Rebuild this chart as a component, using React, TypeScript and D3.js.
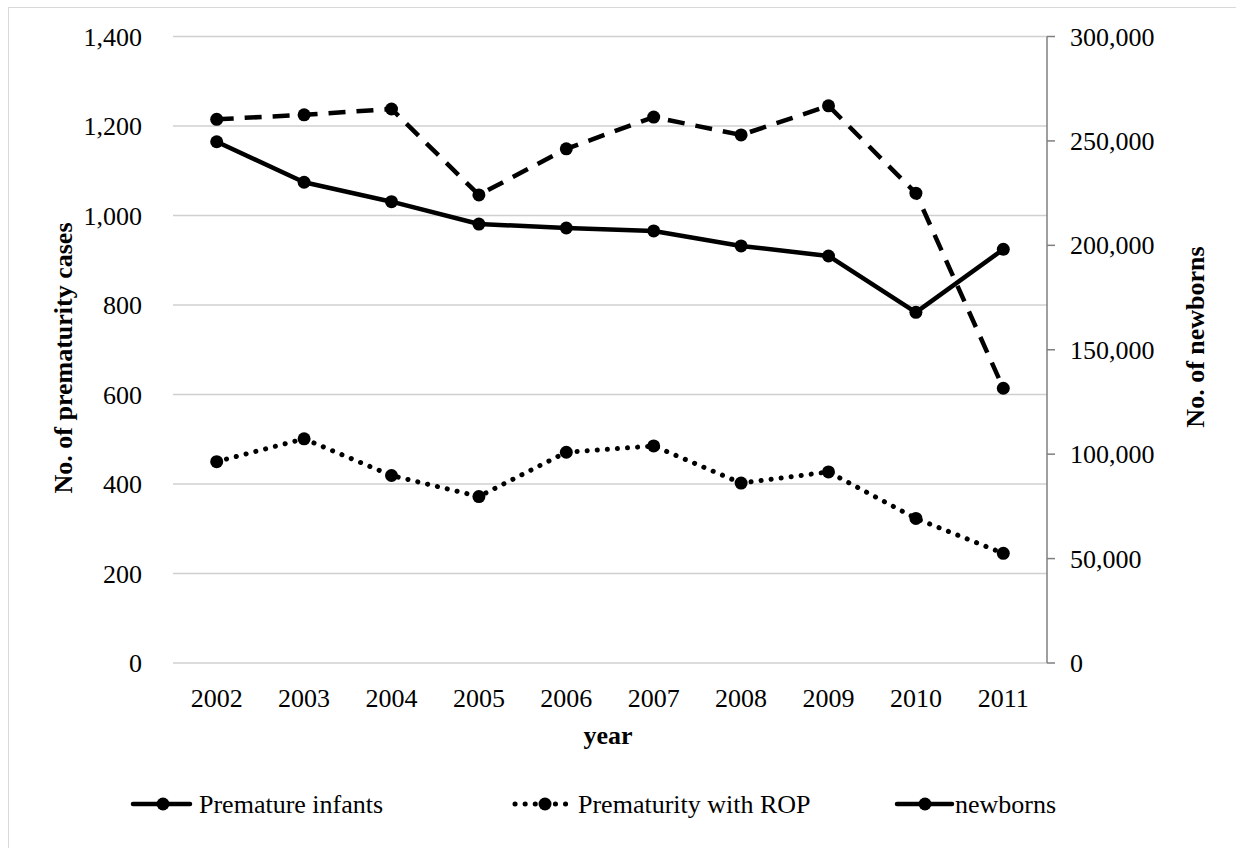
import React from "react";
import * as d3 from "d3";

const years = ["2002", "2003", "2004", "2005", "2006", "2007", "2008", "2009", "2010", "2011"];
const prematureInfants = [1215, 1225, 1238, 1046, 1149, 1220, 1180, 1245, 1050, 614];
const prematurityROP = [450, 501, 419, 372, 471, 485, 402, 427, 323, 245];
const newborns = [249600, 230200, 220900, 210200, 208300, 206900, 199700, 194900, 167900, 198100];
const leftTicks = [0, 200, 400, 600, 800, 1000, 1200, 1400];
const rightTicks = [0, 50000, 100000, 150000, 200000, 250000, 300000];

const W = 1236;
const H = 848;
const L = 173;
const R = 1047;
const T = 36.5;
const B = 663;
const FONT = '"Times New Roman", "Liberation Serif", Tinos, "Nimbus Roman", "Nimbus Roman No9 L", FreeSerif, "DejaVu Serif", "Noto Serif", serif';

export default function App() {
  const x = d3.scaleBand<string>().domain(years).range([L, R]).padding(0);
  const cx = (d: string) => (x(d) as number) + x.bandwidth() / 2;
  const yL = d3.scaleLinear().domain([0, 1400]).range([B, T]);
  const yR = d3.scaleLinear().domain([0, 300000]).range([B, T]);
  const fmt = d3.format(",");

  const lineL = d3.line<number>().x((_, i) => cx(years[i])).y((d) => yL(d));
  const lineR = d3.line<number>().x((_, i) => cx(years[i])).y((d) => yR(d));

  const series = [
    { name: "Premature infants", data: prematureInfants, path: lineL(prematureInfants), y: yL, dash: "17 11", cap: "butt" },
    { name: "Prematurity with ROP", data: prematurityROP, path: lineL(prematurityROP), y: yL, dash: "0.1 10", cap: "round" },
    { name: "newborns", data: newborns, path: lineR(newborns), y: yR, dash: "none", cap: "butt" },
  ];

  const legend = [
    { x1: 133, x2: 190, mx: 163, tx: 199, dotted: false },
    { x1: 515, x2: 556, mx: 545, tx: 578, dotted: true },
    { x1: 897, x2: 952, mx: 925, tx: 955, dotted: false },
  ];

  const ts = { fontFamily: FONT };

  return (
    <svg width={W} height={H} style={{ position: "absolute", left: 0, top: 0, fontFamily: FONT }}>
      <rect x={0} y={0} width={W} height={H} fill="#fff" />
      <rect x={8.5} y={7.5} width={W} height={H} fill="none" stroke="#d9d9d9" strokeWidth={1} />
      {leftTicks.map((t) => (
        <g key={t}>
          <line x1={L} x2={R} y1={yL(t)} y2={yL(t)} stroke="#d0d0d0" strokeWidth={1.5} />
          <text x={142} y={yL(t) + 9} textAnchor="end" fontSize={26} fill="#000" style={ts}>{fmt(t)}</text>
        </g>
      ))}
      <line x1={R} x2={R} y1={T} y2={B} stroke="#7f7f7f" strokeWidth={1.5} />
      {rightTicks.map((t) => (
        <g key={t}>
          <line x1={R} x2={R + 8} y1={yR(t)} y2={yR(t)} stroke="#7f7f7f" strokeWidth={1.5} />
          <text x={1070} y={yR(t) + 9} textAnchor="start" fontSize={26} fill="#000" style={ts}>{fmt(t)}</text>
        </g>
      ))}
      {years.map((yr) => (
        <text key={yr} x={cx(yr)} y={707} textAnchor="middle" fontSize={26} fill="#000" style={ts}>{yr}</text>
      ))}
      <text x={608} y={744} textAnchor="middle" fontSize={26} fontWeight="bold" style={ts}>year</text>
      <text transform="translate(72,358) rotate(-90)" textAnchor="middle" fontSize={26} fontWeight="bold" style={ts}>No. of prematurity cases</text>
      <text transform="translate(1204,337) rotate(-90)" textAnchor="middle" fontSize={26} fontWeight="bold" style={ts}>No. of newborns</text>

      {series.map((s) => (
        <g key={s.name}>
          <path d={s.path || ""} fill="none" stroke="#000" strokeWidth={s.cap === "round" ? 5 : 4.5} strokeDasharray={s.dash} strokeLinecap={s.cap as any} strokeLinejoin="round" />
          {s.data.map((v, i) => (
            <circle key={i} cx={cx(years[i])} cy={s.y(v)} r={6.5} fill="#000" />
          ))}
        </g>
      ))}

      {series.map((s, i) => {
        const lg = legend[i];
        return (
          <g key={s.name}>
            {lg.dotted ? (
              <line x1={lg.x1} x2={lg.x2 + 10} y1={804} y2={804} stroke="#000" strokeWidth={5} strokeDasharray="0.1 10" strokeLinecap="round" />
            ) : (
              <line x1={lg.x1} x2={lg.x2} y1={804} y2={804} stroke="#000" strokeWidth={4.5} strokeLinecap="round" />
            )}
            <circle cx={lg.mx} cy={804} r={6.5} fill="#000" />
            <text x={lg.tx} y={813} fontSize={26} fill="#000" style={ts}>{s.name}</text>
          </g>
        );
      })}
    </svg>
  );
}
